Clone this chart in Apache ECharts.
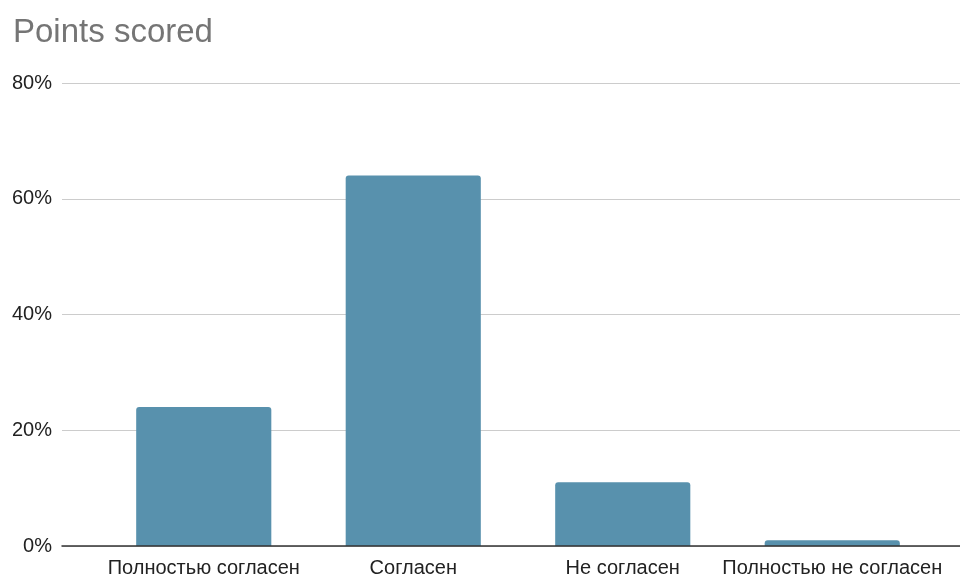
<!DOCTYPE html>
<html><head><meta charset="utf-8">
<script src="https://cdn.jsdelivr.net/npm/echarts@6/dist/echarts.min.js"></script>
<style>html,body{margin:0;padding:0;background:#fff}#c{width:960px;height:579px}</style>
</head><body><div id="c"></div>
<script>
const categories = ['Полностью согласен', 'Согласен', 'Не согласен', 'Полностью не согласен'];
const values = [24, 64, 11, 1];
const yTicks = [0, 20, 40, 60, 80];

const chart = echarts.init(document.getElementById('c'), null, {renderer: 'canvas'});
const font = '"Liberation Sans", Arial, sans-serif';
chart.setOption({
  animation: false,
  backgroundColor: '#fff',
  title: {
    text: 'Points scored', left: 8, top: 11,
    textStyle: {fontFamily: font, fontSize: 33, fontWeight: 'normal', color: '#757575'}
  },
  grid: [
    {left: 62, right: 0, top: 83, bottom: 33, containLabel: false},
    {left: 99, right: 23, top: 83, bottom: 33, containLabel: false}
  ],
  xAxis: [
    {gridIndex: 0, type: 'category', data: [''], axisTick: {show: false}, axisLabel: {show: false},
     axisLine: {show: true, lineStyle: {color: '#333', width: 1.5}}, z: 10},
    {gridIndex: 1, type: 'category', data: categories, axisTick: {show: false},
     axisLine: {show: false},
     axisLabel: {fontFamily: font, fontSize: 20, color: '#222', margin: 12, interval: 0}}
  ],
  yAxis: [
    {gridIndex: 0, type: 'value', min: yTicks[0], max: yTicks[yTicks.length - 1], interval: 20,
     axisLine: {show: false}, axisTick: {show: false},
     axisLabel: {fontFamily: font, fontSize: 20, color: '#222', margin: 10, formatter: v => v + '%'},
     splitLine: {lineStyle: {color: '#cccccc', width: 1}}},
    {gridIndex: 1, type: 'value', min: yTicks[0], max: yTicks[yTicks.length - 1], interval: 20,
     show: false, splitLine: {show: false}}
  ],
  series: [{
    type: 'bar', xAxisIndex: 1, yAxisIndex: 1, data: values,
    barCategoryGap: '35.5%',
    itemStyle: {color: '#5891ad', borderRadius: [3, 3, 0, 0]}
  }]
});
</script></body></html>
